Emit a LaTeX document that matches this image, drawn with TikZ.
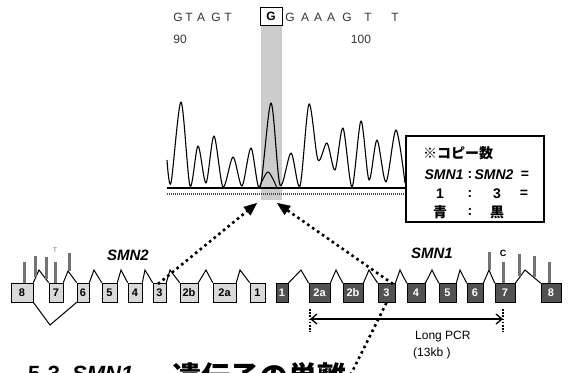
\documentclass[tikz,border=0pt]{standalone}
\usepackage{fontspec}
\setmainfont{Liberation Sans}
\newfontfamily\cjk{Noto Sans CJK JP}
\usetikzlibrary{arrows.meta,calc}
\begin{document}
\begin{tikzpicture}[x=1pt,y=-1pt,
  exon2/.style={draw, line width=0.6pt, fill=black!15, minimum height=19pt, inner sep=0pt, font=\bfseries\fontsize{11}{11}\selectfont},
  exon1/.style={exon2, fill=black!68, text=white},
  intron/.style={line width=1pt, line join=miter},
  bar/.style={line width=3pt, draw=black!55},
  dotline/.style={line width=2.6pt, dash pattern=on 2.6pt off 3.4pt},
  tipline/.style={-{Triangle[length=13pt,width=11pt]}, line width=0.5pt},
  seq/.style={font=\fontsize{12}{12}\selectfont, text=black!80, inner sep=0pt},
  genelab/.style={font=\bfseries\itshape\fontsize{15}{15}\selectfont, inner sep=0pt},
  boxtxt/.style={font=\bfseries\fontsize{14}{14}\selectfont, inner sep=0pt},
  small/.style={font=\fontsize{12}{12}\selectfont, inner sep=0pt, anchor=west}
]
\useasboundingbox (0,0) rectangle (570,372);
\clip (0,0) rectangle (570,372);

% highlight band
\fill[black!20] (261,25) rectangle (282,200);
\node[draw, line width=0.6pt, minimum width=22pt, minimum height=18pt, inner sep=0pt, font=\bfseries\fontsize{12}{12}\selectfont] (gbox) at (271,16.5) {G};

% sequence
\node[seq] (q1) at (178,17) {G};
\node[seq] (q2) at (189,17) {T};
\node[seq] (q3) at (201,17) {A};
\node[seq] (q4) at (216,17) {G};
\node[seq] (q5) at (228,17) {T};
\node[seq] (q7) at (290,17) {G};
\node[seq] (q8) at (305,17) {A};
\node[seq] (q9) at (318,17) {A};
\node[seq] (q10) at (331,17) {A};
\node[seq] (q11) at (347,17) {G};
\node[seq] (q12) at (368,17) {T};
\node[seq] (q13) at (395,17) {T};
\node[seq] (n90) at (180,39) {90};
\node[seq] (n100) at (361,39) {100};

% chromatogram
\draw[line width=1.1pt, line join=round] plot[smooth, tension=0.5] coordinates {
 (167,160) (171,183) (181,102) (190,186) (198,146) (206,183) (214,136) (223,187)
 (233,157) (242,186) (251,148) (260,188) (271,103) (280,185) (291,153) (300,186)
 (309,104) (318,160) (327,143) (335,170) (343,128) (352,187) (361,121) (369,180)
 (377,140) (386,182) (396,130) (405,183)};
\draw[line width=1pt] plot[smooth, tension=0.5] coordinates {(259,188) (268,172) (277,188)};
\draw[line width=1.1pt] (167,188) -- (405,188);
\draw[line width=2pt, black!70, dash pattern=on 1pt off 1pt] (167,194) -- (405,194);

% copy number box
\draw[line width=1.2pt] (406,136) rectangle (544,222);
\node[boxtxt, anchor=west] (k1) at (423,153) {{\cjk\bfseries ※コピー数}};
\node[boxtxt] (k2a) at (444,175) {\textit{SMN1}};
\node[boxtxt] (k2b) at (470,175) {:};
\node[boxtxt] (k2c) at (494,175) {\textit{SMN2}};
\node[boxtxt] (k2d) at (525,175) {=};
\node[boxtxt] (k3a) at (440,194) {1};
\node[boxtxt] (k3b) at (470,194) {:};
\node[boxtxt] (k3c) at (497,194) {3};
\node[boxtxt] (k3d) at (524,194) {=};
\node[boxtxt] (k4a) at (440,212) {{\cjk\bfseries 青}};
\node[boxtxt] (k4b) at (470,212) {:};
\node[boxtxt] (k4c) at (497,212) {{\cjk\bfseries 黒}};

% SMN2 gene
\node[exon2, minimum width=22pt] (a8) at (22,292.5) {8};
\node[exon2, minimum width=14pt] (a7) at (56,292.5) {7};
\node[exon2, minimum width=12pt] (a6) at (83,292.5) {6};
\node[exon2, minimum width=15pt] (a5) at (109.5,292.5) {5};
\node[exon2, minimum width=14pt] (a4) at (135,292.5) {4};
\node[exon2, minimum width=13pt] (a3) at (159.5,292.5) {3};
\node[exon2, minimum width=18pt] (a2b) at (189,292.5) {2b};
\node[exon2, minimum width=23pt] (a2a) at (224.5,292.5) {2a};
\node[exon2, minimum width=15pt] (a1) at (257.5,292.5) {1};
\draw[intron] (a8.north east) -- (39,270) -- (a7.north west);
\draw[intron] (a7.north east) -- (68,271) -- (a6.north west);
\draw[intron] (a6.north east) -- (94,270) -- (a5.north west);
\draw[intron] (a5.north east) -- (121,270) -- (a4.north west);
\draw[intron] (a4.north east) -- (145,270) -- (a3.north west);
\draw[intron] (a3.north east) -- (170,270) -- (a2b.north west);
\draw[intron] (a2b.north east) -- (206,270) -- (a2a.north west);
\draw[intron] (a2a.north east) -- (240,270) -- (a1.north west);
\draw[intron] (a8.south east) -- (50,325) -- (a6.south west);
\draw[bar] (24,262) -- (24,283);
\draw[bar] (35,256) -- (35,277);
\draw[bar] (46,257) -- (46,279);
\draw[bar] (55,262) -- (55,283);
\draw[bar] (69,253) -- (69,271);
\node[font=\fontsize{7}{7}\selectfont, text=black!50, inner sep=0pt] (tT) at (55,250) {T};
\node[genelab] (lab2) at (128,255) {SMN2};

% SMN1 gene
\node[exon1, minimum width=12pt] (b1) at (282,293) {1};
\node[exon1, minimum width=21pt] (b2a) at (319.5,293) {2a};
\node[exon1, minimum width=20pt] (b2b) at (353,293) {2b};
\node[exon1, minimum width=17pt] (b3) at (386.5,293) {3};
\node[exon1, minimum width=18pt] (b4) at (416,293) {4};
\node[exon1, minimum width=17pt] (b5) at (447.5,293) {5};
\node[exon1, minimum width=16pt] (b6) at (475,293) {6};
\node[exon1, minimum width=20pt] (b7) at (505,293) {7};
\node[exon1, minimum width=20pt] (b8) at (551,293) {8};
\draw[intron] (b1.north east) -- (301,270) -- (b2a.north west);
\draw[intron] (b2a.north east) -- (336,270) -- (b2b.north west);
\draw[intron] (b2b.north east) -- (369,270) -- (b3.north west);
\draw[intron] (b3.north east) -- (400,270) -- (b4.north west);
\draw[intron] (b4.north east) -- (432,270) -- (b5.north west);
\draw[intron] (b5.north east) -- (460,270) -- (b6.north west);
\draw[intron] (b6.north east) -- (489,270) -- (b7.north west);
\draw[intron] (b7.north east) -- (525,270) -- (b8.north west);
\draw[bar] (489,252) -- (489,270);
\draw[bar] (503,262) -- (503,283);
\draw[bar] (519,254) -- (519,276);
\draw[bar] (534,256) -- (534,277);
\draw[bar] (549,262) -- (549,283);
\node[font=\bfseries\fontsize{9}{9}\selectfont, inner sep=0pt] (tC) at (503,253) {C};
\node[genelab] (lab1) at (432,253) {SMN1};

% Long PCR
\coordinate (p1) at (310,319);
\coordinate (p2) at (503,319);
\draw[line width=1.6pt, dash pattern=on 1.6pt off 1.6pt] (310,309) -- (310,332);
\draw[line width=1.6pt, dash pattern=on 1.6pt off 1.6pt] (503,309) -- (503,332);
\draw[line width=1.3pt, {Straight Barb[length=6pt,width=10pt]}-{Straight Barb[length=6pt,width=10pt]}] (p1) -- (p2);
\node[small] (pcr) at (415,337) {Long PCR};
\node[small] (kb) at (413,353) {(13kb )};

% dotted arrows
\coordinate (s1) at (158,284);
\coordinate (t1) at (257,203);
\coordinate (s2) at (393,284);
\coordinate (t2) at (277,203);
\coordinate (e3) at (348,380);
\draw[dotline, shorten >=9pt] (s1) -- (t1);
\draw[tipline] ($(t1)!12pt!(s1)$) -- (t1);
\draw[dotline, shorten >=9pt] (s2) -- (t2);
\draw[tipline] ($(t2)!12pt!(s2)$) -- (t2);
\draw[dotline] (b3.south) -- (e3);

% title (cut off at bottom)
\node[font=\bfseries\fontsize{22}{22}\selectfont, anchor=base west, inner sep=0pt] (title1) at (28,381) {5-3\ \ \textit{SMN1}};
\node[font=\cjk\bfseries\fontsize{29}{29}\selectfont, anchor=base west, inner sep=0pt] (title2) at (172,387) {遺伝子の単離};
\end{tikzpicture}
\end{document}
